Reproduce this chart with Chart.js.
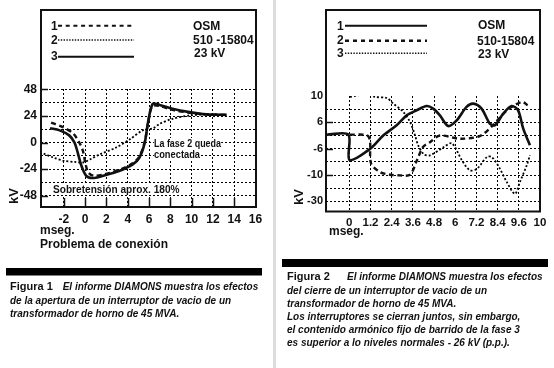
<!DOCTYPE html>
<html><head><meta charset="utf-8">
<script src="https://cdn.jsdelivr.net/npm/chart.js@4.4.1/dist/chart.umd.min.js"></script>
<style>
html,body{margin:0;padding:0;background:#fff;}
body{width:554px;height:368px;overflow:hidden;position:relative;font-family:"Liberation Sans",Arial,sans-serif;color:#111;}
canvas{position:absolute;top:0;}
.t{position:absolute;white-space:nowrap;font-weight:bold;}
.f12{font-size:12px;line-height:12px;}
.cap{font-size:10px;line-height:10px;font-style:italic;font-weight:bold;}
.fig{font-size:11px;line-height:11px;}
.ann{background:#fff;transform-origin:0 50%;}
.kv{font-size:13px;line-height:13px;transform:translate(-50%,-50%) rotate(-90deg);}
svg{position:absolute;left:0;top:0;}
</style>
</head><body>
<canvas id="c1" width="277" height="250" style="left:0"></canvas>
<canvas id="c2" width="277" height="250" style="left:277px"></canvas>

<svg width="554" height="368">
  <rect x="273" y="0" width="3" height="368" fill="#dcdcdc"/>
  <rect x="41" y="10" width="215" height="197" fill="none" stroke="#111" stroke-width="2"/>
  <rect x="326" y="10" width="214" height="201.5" fill="none" stroke="#111" stroke-width="2"/>
  <rect x="6" y="268" width="256" height="7.5" fill="#000"/>
  <rect x="282" y="259" width="266" height="8" fill="#000"/>
  <line x1="58" y1="25.7" x2="134" y2="25.7" stroke="#111" stroke-width="2" stroke-dasharray="4 3.7"/>
  <line x1="58" y1="40" x2="134" y2="40" stroke="#111" stroke-width="1.6" stroke-dasharray="1.4 1.4"/>
  <line x1="58" y1="56.7" x2="134" y2="56.7" stroke="#111" stroke-width="2"/>
  <line x1="345" y1="25.7" x2="427" y2="25.7" stroke="#111" stroke-width="2"/>
  <line x1="345" y1="40.7" x2="427" y2="40.7" stroke="#111" stroke-width="2.4" stroke-dasharray="4 4"/>
  <line x1="345" y1="53.3" x2="427" y2="53.3" stroke="#111" stroke-width="1.6" stroke-dasharray="1.4 1.4"/>
</svg>

<div class="t f12" style="left:51px;top:19.5px">1</div>
<div class="t f12" style="left:51px;top:33.7px">2</div>
<div class="t f12" style="left:51px;top:50px">3</div>
<div class="t f12" style="left:193px;top:19.5px">OSM</div>
<div class="t f12" style="left:193px;top:34px">510 -15804</div>
<div class="t f12" style="left:194px;top:46.5px">23 kV</div>
<div class="t ann" style="left:154px;top:137.5px;font-size:10.5px;line-height:10.5px;transform:scaleX(0.85)">La fase 2 queda</div>
<div class="t ann" style="left:154px;top:149.2px;font-size:10.5px;line-height:10.5px;transform:scaleX(0.886)">conectada</div>
<div class="t ann" style="left:53px;top:183.5px;font-size:11.5px;line-height:11.5px;transform:scaleX(0.88)">Sobretensión aprox. 180%</div>
<div class="t kv" style="left:12.7px;top:196px">kV</div>
<div class="t f12" style="left:40px;top:223.5px">mseg.</div>
<div class="t f12" style="left:40px;top:237.5px">Problema de conexión</div>

<div class="t f12" style="left:337px;top:19.5px">1</div>
<div class="t f12" style="left:337px;top:34px">2</div>
<div class="t f12" style="left:337px;top:46.5px">3</div>
<div class="t f12" style="left:478px;top:19px">OSM</div>
<div class="t f12" style="left:477px;top:34.5px">510-15804</div>
<div class="t f12" style="left:478px;top:48px">23 kV</div>
<div class="t kv" style="left:298px;top:196.5px">kV</div>
<div class="t f12" style="left:329px;top:225px">mseg.</div>

<div class="t fig" style="left:10px;top:281.2px">Figura 1</div>
<div class="t cap" style="left:62.7px;top:281.7px">El informe DIAMONS muestra los efectos</div>
<div class="t cap" style="left:10px;top:295.7px">de la apertura de un interruptor de vacio de un</div>
<div class="t cap" style="left:10px;top:309.3px">transformador de horno de 45 MVA.</div>

<div class="t fig" style="left:287px;top:271.2px">Figura 2</div>
<div class="t cap" style="left:347px;top:271.7px">El informe DIAMONS muestra los efectos</div>
<div class="t cap" style="left:287px;top:285.7px">del cierre de un interruptor de vacio de un</div>
<div class="t cap" style="left:287px;top:298.7px">transformador de horno de 45 MVA.</div>
<div class="t cap" style="left:287px;top:311.7px">Los interruptores se cierran juntos, sin embargo,</div>
<div class="t cap" style="left:287px;top:325px">el contenido armónico fijo de barrido de la fase 3</div>
<div class="t cap" style="left:287px;top:338.3px">es superior a lo niveles normales - 26 kV (p.p.).</div>

<script>
// ---------- Figura 1 data (x: ms, y: kV) ----------
const f1Phase1X = [-3.2,-2.1,-1.1,-0.5,-0.2,0.05,0.3,0.8,1.7,2.6,3.5,4.5,5.1,5.6,5.9,6.3,7,8.2,9.8,11.4,13.2];
const f1Phase1Y = [18,14,8,-1,-8,-20,-27,-30,-29,-26.5,-23.5,-18.5,-12.5,1,17,33,33,29.5,27,25.5,25];
const f1Phase2X = [-3.9,-3,-2,-1,-0.2,0.5,1.4,2.9,4.2,5.4,6.4,7,8.2,9.8,11.4,13.3];
const f1Phase2Y = [-10,-13.5,-16.5,-17.5,-18,-15,-10.5,-4.5,3,11,13,17,21.5,24.5,25.5,25];
const f1Phase3X = [-3.3,-2.4,-1.5,-1,-0.7,-0.35,0.1,0.7,1.7,2.6,3.5,4.5,5.1,5.6,5.9,6.35,7,8.2,9.8,11.4,13.3];
const f1Phase3Y = [13,11,6.5,0,-9,-21,-30,-32,-30,-27.5,-24.5,-19.5,-13.5,0,18,35,34,30.5,27.5,25.5,25];
const f1XTicks = [-2,0,2,4,6,8,10,12,14,16];
const f1YGrid = [-48,-36,-24,-12,0,12,24,36,48];
const f1YLabels = [-48,-24,0,24,48];

// ---------- Figura 2 data (x: ms, y: chart divisions; labels below) ----------
const f2Phase1X = [-1.26,-0.05,0.01,1.19,1.92,2.68,3.25,3.81,4.38,4.75,5.13,5.6,6.08,6.64,7.02,7.49,7.96,8.25,8.72,9.19,9.56,9.85,10.23];
const f2Phase1Y = [5.07,5.07,3.15,4.0,5.0,5.78,6.53,6.91,7.24,7.04,6.53,5.72,6.15,7.17,7.42,7.04,5.9,5.78,6.66,7.24,6.91,5.52,4.26];
const f2Phase2X = [0.04,1.0,1.17,1.23,1.74,2.3,2.87,3.44,3.83,4.17,4.57,5.13,6.26,7.39,8.13,8.92,9.77,10.1];
const f2Phase2Y = [5.07,5.02,4.64,2.89,2.23,2.03,1.98,2.03,3.12,4.13,4.5,5.0,4.76,4.96,5.78,6.91,7.55,7.3];
const f2Phase3X = [0.04,0.49,0.98,1.45,2.12,2.49,3.06,3.44,3.72,3.9,4.23,4.57,5.36,5.81,6.38,6.83,7.23,7.79,8.07,8.53,8.92,9.38,9.66,10.05,10.23];
const f2Phase3Y = [7.93,8.05,8.18,7.93,7.85,7.42,6.79,6.03,5.02,4.26,3.57,3.5,4.13,4.41,3.12,2.36,2.48,3.37,3.37,2.48,1.47,0.58,1.47,2.74,3.5];
const f2XTicks = [0,1.2,2.4,3.6,4.8,6,7.2,8.4,9.6,10.8];
const f2XTickText = ['0','1.2','2.4','3.6','4.8','6','7.2','8.4','9.6','10'];
const f2YGrid = [0,1,2,3,4,5,6,7,8];
const f2YLabelPos = [0,2,4,6,8];
const f2YLabelText = ['-30','-10','-6','6','10'];

const zip = (xs, ys) => xs.map((x, i) => ({x, y: ys[i]}));
const INK = '#111';
const FONT = "'Liberation Sans', Arial, sans-serif";

const innerTicks = {
  id: 'innerTicks',
  afterDatasetsDraw(chart, args, o) {
    const {ctx, chartArea: a, scales: {x, y}} = chart;
    ctx.save();
    ctx.strokeStyle = INK; ctx.lineWidth = 1.5; ctx.setLineDash([]);
    (o.yVals || []).forEach(v => { const p = Math.round(y.getPixelForValue(v)) + 0.5; ctx.beginPath(); ctx.moveTo(a.left, p); ctx.lineTo(a.left + o.yLen, p); ctx.stroke(); });
    (o.xVals || []).forEach(v => { const p = Math.round(x.getPixelForValue(v)) + 0.5; ctx.beginPath(); ctx.moveTo(p, a.bottom); ctx.lineTo(p, a.bottom - o.xLen); ctx.stroke(); });
    ctx.restore();
  }
};

function ds(data, style) {
  const base = {data, pointRadius: 0, borderColor: INK, fill: false, tension: 0.3};
  if (style === 'solid') return {...base, borderWidth: 2.6};
  if (style === 'dashed') return {...base, borderWidth: 2.4, borderDash: [5, 3.5]};
  return {...base, borderColor: '#000', borderWidth: 1.8, borderDash: [2, 2]};
}

const gridStyle = {color: '#000', lineWidth: 1, drawTicks: false};

new Chart(document.getElementById('c1'), {
  type: 'line',
  data: {datasets: [
    ds(zip(f1Phase2X, f1Phase2Y), 'dotted'),
    ds(zip(f1Phase1X, f1Phase1Y), 'dashed'),
    ds(zip(f1Phase3X, f1Phase3Y), 'solid')
  ]},
  options: {
    responsive: false, devicePixelRatio: 1, animation: false,
    layout: {padding: {left: 0, top: 89, right: 21, bottom: 0}},
    plugins: {legend: {display: false}, tooltip: {enabled: false},
      innerTicks: {yVals: f1YLabels, yLen: 7, xVals: f1XTicks.filter(v => v < 16), xLen: 9}},
    scales: {
      x: {type: 'linear', min: -4.15, max: 16.05,
        afterBuildTicks: s => { s.ticks = f1XTicks.map(v => ({value: v})); },
        afterFit: s => { s.height = 43; },
        grid: {...gridStyle, color: c => (c.tick && c.tick.value === 16) ? 'rgba(0,0,0,0)' : '#000'},
        border: {display: false, dash: [2, 2]},
        ticks: {color: INK, padding: 5, font: {family: FONT, size: 12, weight: 'bold'}, maxRotation: 0, autoSkip: false,
          callback: v => String(v)}
      },
      y: {type: 'linear', min: -58.2, max: 48.4,
        afterBuildTicks: s => { s.ticks = f1YGrid.map(v => ({value: v})); },
        afterFit: s => { s.width = 41; },
        grid: gridStyle,
        border: {display: false, dash: [2, 2]},
        ticks: {color: INK, padding: 4, font: {family: FONT, size: 12, weight: 'bold'}, autoSkip: false,
          callback: v => f1YLabels.includes(v) ? String(v) : ''}
      }
    }
  },
  plugins: [innerTicks]
});

new Chart(document.getElementById('c2'), {
  type: 'line',
  data: {datasets: [
    ds(zip(f2Phase3X, f2Phase3Y), 'dotted'),
    ds(zip(f2Phase2X, f2Phase2Y), 'dashed'),
    ds(zip(f2Phase1X, f2Phase1Y), 'solid')
  ]},
  options: {
    responsive: false, devicePixelRatio: 1, animation: false,
    layout: {padding: {left: 0, top: 96, right: 14, bottom: 0}},
    plugins: {legend: {display: false}, tooltip: {enabled: false},
      innerTicks: {yVals: [2, 4, 6], yLen: 7, xVals: [], xLen: 0}},
    scales: {
      x: {type: 'linear', min: -1.32, max: 10.8,
        afterBuildTicks: s => { s.ticks = f2XTicks.map(v => ({value: v})); },
        afterFit: s => { s.height = 38; },
        grid: {...gridStyle, color: c => (c.tick && c.tick.value === 10.8) ? 'rgba(0,0,0,0)' : '#000'},
        border: {display: false, dash: [2, 2]},
        ticks: {color: INK, padding: 4, font: {family: FONT, size: 11.5, weight: 'bold'}, maxRotation: 0, autoSkip: false,
          callback: (v, i) => f2XTickText[f2XTicks.indexOf(v)] ?? ''}
      },
      y: {type: 'linear', min: -0.8, max: 8,
        afterBuildTicks: s => { s.ticks = f2YGrid.map(v => ({value: v})); },
        afterFit: s => { s.width = 49; },
        grid: {...gridStyle, color: c => (c.tick && c.tick.value === 8) ? 'rgba(0,0,0,0)' : '#000'},
        border: {display: false, dash: [2, 2]},
        ticks: {color: INK, padding: 3, font: {family: FONT, size: 11, weight: 'bold'}, autoSkip: false,
          callback: v => { const i = f2YLabelPos.indexOf(v); return i >= 0 ? f2YLabelText[i] : ''; }}
      }
    }
  },
  plugins: [innerTicks]
});
</script>
</body></html>
